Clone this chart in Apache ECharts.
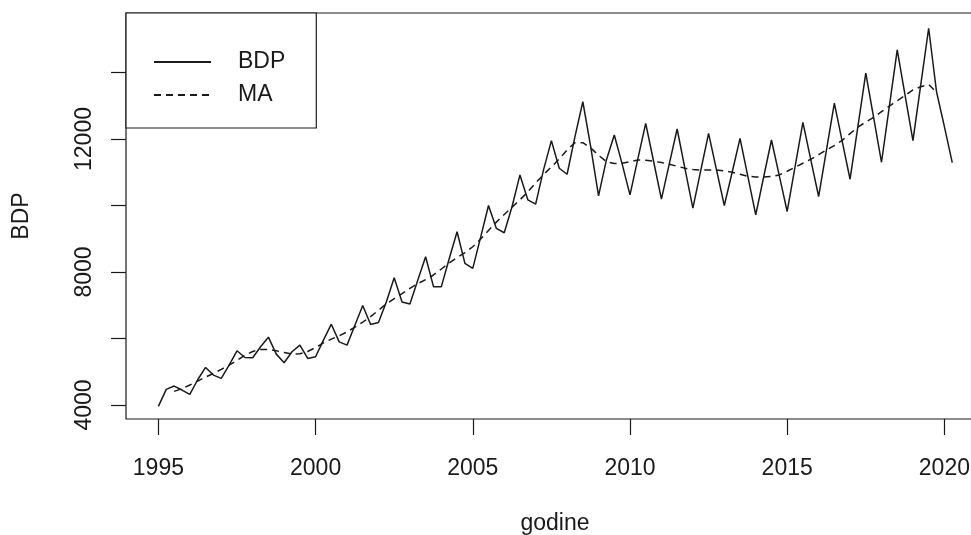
<!DOCTYPE html>
<html>
<head>
<meta charset="utf-8">
<title>BDP</title>
<script src="https://cdn.jsdelivr.net/npm/echarts@6/dist/echarts.min.js"></script>
<style>
  html, body { margin: 0; padding: 0; background: #fff; }
  #chart { width: 971px; height: 535px; }
</style>
</head>
<body>
<div id="chart"></div>
<script>
// Quarterly series starting 1995 Q1
const startYear = 1995;
const perYear = 4;

// BDP, quarterly
const bdp = [
  3960, 4470, 4570, 4450,
  4320, 4760, 5130, 4900,
  4800, 5200, 5630, 5430,
  5420, 5750, 6040, 5530,
  5270, 5600, 5800, 5400,
  5450, 5950, 6430, 5900,
  5800, 6400, 6990, 6420,
  6480, 7100, 7830, 7100,
  7040, 7750, 8460, 7560,
  7560, 8400, 9210, 8260,
  8110, 9050, 10000, 9310,
  9180, 9970, 10920, 10170,
  10040, 11070, 11950, 11120,
  10940, 12070, 13120, 11770,
  10290, 11370, 12120, 11250,
  10320, 11400, 12470, 11330,
  10190, 11250, 12300, 11100,
  9920, 11050, 12170, 11080,
  10000, 11000, 12020, 10870,
  9720, 10850, 11970, 10890,
  9820, 11160, 12500, 11380,
  10270, 11670, 13080, 11930,
  10790, 12380, 13980, 12640,
  11300, 12990, 14680, 13310,
  11950, 13640, 15330, 13420,
  12370, 11290
];

// MA (centred moving average), undefined at both ends
const ma = [
  null, null, 4410, 4490,
  4600, 4720, 4840, 4950,
  5070, 5200, 5340, 5490,
  5610, 5670, 5670, 5630,
  5580, 5530, 5540, 5610,
  5730, 5870, 5980, 6080,
  6200, 6340, 6490, 6660,
  6850, 7040, 7200, 7350,
  7510, 7650, 7770, 7910,
  8090, 8270, 8430, 8580,
  8760, 8990, 9250, 9500,
  9730, 9950, 10170, 10410,
  10680, 10930, 11160, 11400,
  11670, 11890, 11890, 11730,
  11510, 11320, 11260, 11270,
  11320, 11370, 11360, 11330,
  11290, 11240, 11180, 11120,
  11080, 11060, 11070, 11070,
  11040, 11000, 10940, 10880,
  10860, 10860, 10870, 10920,
  11030, 11150, 11270, 11390,
  11530, 11670, 11800, 11960,
  12160, 12360, 12510, 12650,
  12820, 12990, 13150, 13310,
  13480, 13570, 13640, 13400,
  null, null
];

// Axis ticks and labels
const xTicks = [1995, 2000, 2005, 2010, 2015, 2020];
const yTicks = [4000, 6000, 8000, 10000, 12000, 14000];
const yLabels = [4000, 8000, 12000];

const t = i => startYear + i / perYear;
const bdpData = bdp.map((v, i) => [t(i), v]);
const maData = ma.map((v, i) => [t(i), v]);

const ink = '#1a1a1a';
const font = '"Liberation Sans", Arial, sans-serif';
const plain = v => String(v);

const chart = echarts.init(document.getElementById('chart'), null, { renderer: 'canvas' });
chart.setOption({
  animation: false,
  backgroundColor: '#fff',
  textStyle: { fontFamily: font, color: ink },
  grid: {
    left: 126, top: 13, width: 858, height: 406,
    outerBoundsMode: 'none', containLabel: false,
    show: true, borderColor: ink, borderWidth: 1.2, backgroundColor: 'transparent'
  },
  legend: {
    show: true,
    left: 126, top: 13,
    orient: 'vertical',
    backgroundColor: '#fff',
    borderColor: ink, borderWidth: 1.2,
    padding: [37, 31, 21, 27],
    itemWidth: 57, itemHeight: 14, itemGap: 9,
    itemStyle: { opacity: 0 },
    textStyle: { fontFamily: font, fontSize: 23, color: ink, lineHeight: 24, padding: [0, 0, 0, 22] },
    data: ['BDP', 'MA'],
    z: 10
  },
  xAxis: {
    type: 'value',
    min: 1993.97, max: 2021.26,
    name: 'godine', nameLocation: 'middle', nameGap: 93,
    nameTextStyle: { fontFamily: font, fontSize: 23, color: ink },
    axisLine: { show: false },
    splitLine: { show: false },
    axisTick: { show: true, inside: false, length: 16, customValues: xTicks, lineStyle: { color: ink, width: 1.2 } },
    axisLabel: { customValues: xTicks, formatter: plain, fontSize: 23, color: ink, margin: 38, fontFamily: font }
  },
  yAxis: {
    type: 'value',
    min: 3579, max: 15789,
    name: 'BDP', nameLocation: 'middle', nameGap: 93, nameRotate: 90,
    nameTextStyle: { fontFamily: font, fontSize: 23, color: ink },
    axisLine: { show: false },
    splitLine: { show: false },
    axisTick: { show: true, inside: false, length: 15, customValues: yTicks, lineStyle: { color: ink, width: 1.2 } },
    axisLabel: { customValues: yLabels, formatter: plain, rotate: 90, fontSize: 23, color: ink, margin: 30, fontFamily: font }
  },
  series: [
    {
      name: 'BDP', type: 'line', data: bdpData,
      symbol: 'none', lineStyle: { color: ink, width: 1.5 },
      itemStyle: { color: ink }
    },
    {
      name: 'MA', type: 'line', data: maData,
      symbol: 'none', connectNulls: false,
      lineStyle: { color: ink, width: 1.5, type: [7, 5] },
      itemStyle: { color: ink }
    }
  ]
});
</script>
</body>
</html>
